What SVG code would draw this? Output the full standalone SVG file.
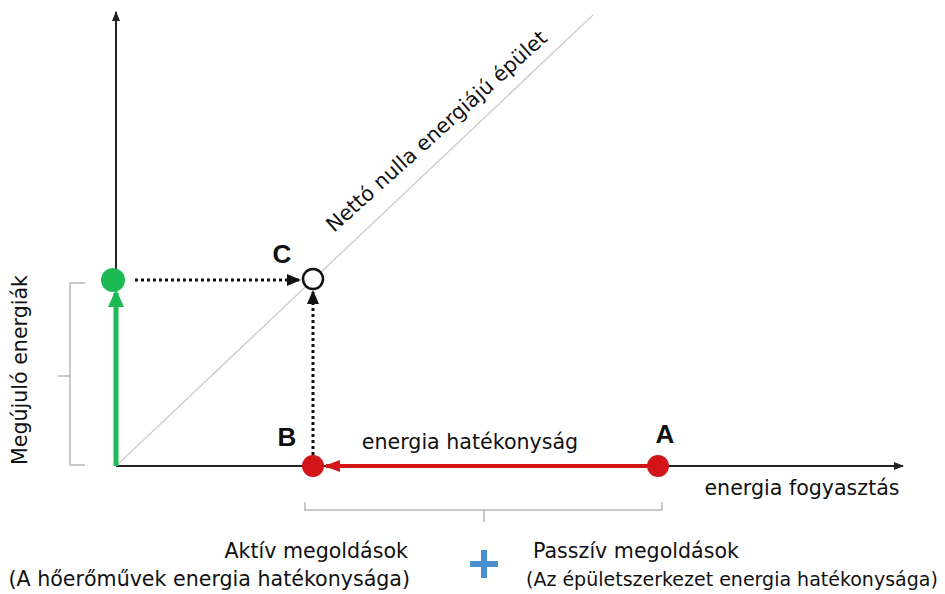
<svg xmlns="http://www.w3.org/2000/svg" width="945" height="594" viewBox="0 0 945 594">
<style>
text{font-family:"DejaVu Sans","Liberation Sans",sans-serif;fill:#111}
.lbl{font-size:20.6px}
.big{font-size:26px;font-weight:bold;font-family:"Liberation Sans",sans-serif}
.br{fill:none;stroke:#b8b8b8;stroke-width:1.5}
</style>
<defs>
<marker id="ab" markerWidth="10" markerHeight="8" refX="9" refY="4" orient="auto" markerUnits="userSpaceOnUse"><path d="M0,0L10,4L0,8z" fill="#222"/></marker>
<marker id="ad" markerWidth="14" markerHeight="12" refX="12" refY="6" orient="auto" markerUnits="userSpaceOnUse"><path d="M0,0L14,6L0,12z" fill="#111"/></marker>
<marker id="ag" markerWidth="18" markerHeight="16" refX="14" refY="8" orient="auto" markerUnits="userSpaceOnUse"><path d="M0,0L18,8L0,16z" fill="#1db954"/></marker>
<marker id="ar" markerWidth="16" markerHeight="12" refX="14" refY="6" orient="auto" markerUnits="userSpaceOnUse"><path d="M0,0L16,6L0,12z" fill="#d31419"/></marker>
</defs>
<rect width="945" height="594" fill="#fff"/>
<g id="connectors">
<line x1="116" y1="466" x2="593" y2="15" stroke="#d0d0d0" stroke-width="1.5"/>
<line x1="116" y1="466" x2="116" y2="12" stroke="#222" stroke-width="2" marker-end="url(#ab)"/>
<line x1="116" y1="466" x2="903" y2="466" stroke="#222" stroke-width="2" marker-end="url(#ab)"/>
<line x1="116" y1="466" x2="116" y2="293" stroke="#1db954" stroke-width="5" marker-end="url(#ag)"/>
<line x1="658" y1="466" x2="326" y2="466" stroke="#d31419" stroke-width="4" marker-end="url(#ar)"/>
<line x1="135" y1="280" x2="299" y2="280" stroke="#111" stroke-width="3" stroke-dasharray="3,3" marker-end="url(#ad)"/>
<line x1="313" y1="455" x2="313" y2="292" stroke="#111" stroke-width="3" stroke-dasharray="3,3" marker-end="url(#ad)"/>
<path class="br" d="M85,283H70V465H85M70,376H58"/>
<path class="br" d="M305,502V510H662V502M484,510V522"/>
</g>
<g id="green"><circle cx="113" cy="280" r="12" fill="#1db954"/></g>
<g id="C"><circle cx="313" cy="279" r="10" fill="#fff" stroke="#111" stroke-width="2.5"/><text class="big" x="282" y="263" text-anchor="middle">C</text></g>
<g id="B"><circle cx="313" cy="466" r="11" fill="#d31419"/><text class="big" x="287" y="446" text-anchor="middle">B</text></g>
<g id="A"><circle cx="658" cy="466" r="11" fill="#d31419"/><text class="big" x="665" y="443" text-anchor="middle">A</text></g>
<g id="labels">
<text class="lbl" x="470" y="449" text-anchor="middle">energia hatékonyság</text>
<text class="lbl" x="802" y="495" text-anchor="middle">energia fogyasztás</text>
<text class="lbl" transform="translate(27,370) rotate(-90)" text-anchor="middle">Megújuló energiák</text>
<text class="lbl" transform="translate(334,233) rotate(-42)">Nettó nulla energiájú épület</text>
<text class="lbl" x="408" y="558" text-anchor="end">Aktív megoldások</text>
<text class="lbl" x="410" y="586" text-anchor="end">(A hőerőművek energia hatékonysága)</text>
<text class="lbl" x="533" y="558">Passzív megoldások</text>
<text x="526" y="586" style="font-size:19px">(Az épületszerkezet energia hatékonysága)</text>
</g>
<g id="plus"><path d="M484,550V578M470,564H498" stroke="#4a8fd0" stroke-width="6"/></g>
</svg>
